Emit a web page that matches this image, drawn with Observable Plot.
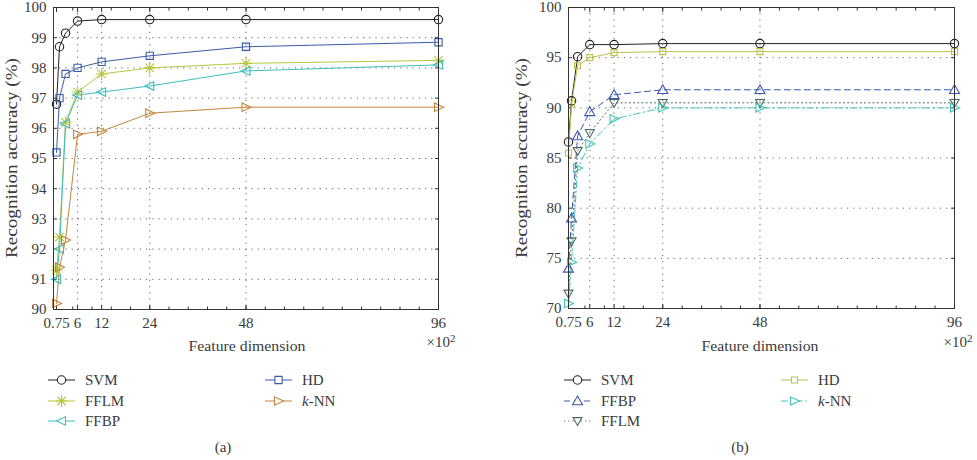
<!DOCTYPE html>
<html>
<head>
<meta charset="utf-8">
<script src="https://cdn.jsdelivr.net/npm/d3@7"></script>
<script src="https://cdn.jsdelivr.net/npm/@observablehq/plot@0.6"></script>
<style>
  body { margin: 0; background: #fff; }
  #root { position: relative; width: 977px; height: 460px; overflow: hidden; font-family: "Liberation Serif", serif; }
  #root > svg { position: absolute; }
</style>
</head>
<body>
<div id="root"></div>
<script>
// Feature dimension (×10²) at which each classifier was evaluated
const dims = [0.75, 1.5, 3, 6, 12, 24, 48, 96];
const dimTicks = [0.75, 6, 12, 24, 48, 96];
const dimGrid = [6, 12, 24, 48];
const dimMinor = d3.range(4.8, 96, 4.8);

// Panel (a): recognition accuracy (%)
const aSVM  = [96.8, 98.7, 99.15, 99.55, 99.6, 99.6, 99.6, 99.6];
const aHD   = [95.2, 97.0, 97.8, 98.0, 98.2, 98.4, 98.7, 98.85];
const aFFLM = [91.3, 92.4, 96.2, 97.2, 97.8, 98.0, 98.15, 98.25];
const aFFBP = [91.0, 92.0, 96.15, 97.1, 97.2, 97.4, 97.9, 98.1];
const aKNN  = [90.2, 91.4, 92.3, 95.8, 95.9, 96.5, 96.7, 96.7];
const aYTicks = [90, 91, 92, 93, 94, 95, 96, 97, 98, 99, 100];

// Panel (b): recognition accuracy (%)
const bSVM  = [86.6, 90.7, 95.1, 96.3, 96.3, 96.4, 96.4, 96.4];
const bHD   = [85.5, 90.4, 94.2, 95.0, 95.5, 95.6, 95.6, 95.6];
const bFFBP = [74.0, 79.0, 87.2, 89.6, 91.3, 91.8, 91.8, 91.8];
const bFFLM = [71.5, 76.7, 85.7, 87.5, 90.5, 90.5, 90.5, 90.5];
const bKNN  = [70.5, 74.6, 84.0, 86.4, 88.9, 90.0, 90.0, 90.0];
const bYTicks = [70, 75, 80, 85, 90, 95, 100];

// Marker shapes (size = π r²)
const rad = (s) => Math.sqrt(s / Math.PI);
const symSquare = { draw(c, s) { const r = rad(s); c.rect(-r, -r, 2 * r, 2 * r); } };
const symStar = { draw(c, s) {
  const r = rad(s), d = r * Math.SQRT1_2;
  c.moveTo(-r, 0); c.lineTo(r, 0); c.moveTo(0, -r); c.lineTo(0, r);
  c.moveTo(-d, -d); c.lineTo(d, d); c.moveTo(-d, d); c.lineTo(d, -d);
} };
const symLeft = { draw(c, s) { const r = rad(s); c.moveTo(-r, 0); c.lineTo(r * 0.8, -r * 0.85); c.lineTo(r * 0.8, r * 0.85); c.closePath(); } };
const symRight = { draw(c, s) { const r = rad(s); c.moveTo(r, 0); c.lineTo(-r * 0.8, -r * 0.85); c.lineTo(-r * 0.8, r * 0.85); c.closePath(); } };
const symUp = { draw(c, s) { const r = rad(s); c.moveTo(0, -r); c.lineTo(r, r * 0.75); c.lineTo(-r, r * 0.75); c.closePath(); } };
const symDown = { draw(c, s) { const r = rad(s); c.moveTo(0, r); c.lineTo(r, -r * 0.75); c.lineTo(-r, -r * 0.75); c.closePath(); } };

const DASH = { solid: null, dashed: "6,4", dotted: "1.2,3", dashdot: "7,3,1.5,3" };
const INK = "#3a3a3a";

const seriesA = [
  { name: "SVM",  values: aSVM,  color: "#222222", symbol: d3.symbolCircle, r: 4.2, dash: "solid" },
  { name: "FFLM", values: aFFLM, color: "#b7c63c", symbol: symStar,  r: 6,   dash: "solid" },
  { name: "FFBP", values: aFFBP, color: "#3dbdbd", symbol: symLeft,  r: 5,   dash: "solid" },
  { name: "HD",   values: aHD,   color: "#3a5ca8", symbol: symSquare, r: 3.6, dash: "solid" },
  { name: "k-NN", values: aKNN,  color: "#c3853c", symbol: symRight, r: 5,   dash: "solid" }
];
const seriesB = [
  { name: "SVM",  values: bSVM,  color: "#222222", symbol: d3.symbolCircle, r: 4.2, dash: "solid" },
  { name: "FFBP", values: bFFBP, color: "#3a58b0", symbol: symUp,    r: 5,   dash: "dashed" },
  { name: "FFLM", values: bFFLM, color: "#4e6b60", symbol: symDown,  r: 4.5, dash: "dotted" },
  { name: "HD",   values: bHD,   color: "#bcc24a", symbol: symSquare, r: 3,  dash: "solid" },
  { name: "k-NN", values: bKNN,  color: "#3fc5b5", symbol: symRight, r: 5,   dash: "dashdot" }
];

function panel(series, yTicks, opts) {
  const rows = s => dims.map((x, i) => ({ x, y: s.values[i] }));
  const grid = { stroke: "#555", strokeOpacity: 0.9, strokeDasharray: "1.2,5" };
  const tickOnly = { tickFormat: () => "", label: null, stroke: "#333" };
  const minor = dimMinor.filter(d => d > opts.xDomain[0]);
  const marks = [
    Plot.gridY(yTicks.slice(1, -1), grid),
    Plot.gridX(dimGrid, grid),
    Plot.axisY(yTicks, { anchor: "left", tickSize: 0, tickPadding: 7, label: null, fontSize: 15, fill: INK }),
    Plot.axisY(yTicks, { anchor: "left", tickSize: -4, ...tickOnly }),
    Plot.axisY(yTicks, { anchor: "right", tickSize: -4, ...tickOnly }),
    Plot.axisX(dimTicks, { anchor: "bottom", tickSize: 0, tickPadding: 8, label: null, fontSize: 15, fill: INK, tickFormat: d => String(d) }),
    Plot.axisX(dimTicks, { anchor: "bottom", tickSize: -4, ...tickOnly }),
    Plot.axisX(dimTicks, { anchor: "top", tickSize: -4, ...tickOnly }),
    Plot.axisX(minor, { anchor: "bottom", tickSize: -2.5, ...tickOnly }),
    Plot.axisX(minor, { anchor: "top", tickSize: -2.5, ...tickOnly })
  ];
  for (const s of series) {
    marks.push(Plot.line(rows(s), { x: "x", y: "y", stroke: s.color, strokeWidth: 1, strokeDasharray: DASH[s.dash] }));
  }
  for (const s of series) {
    marks.push(Plot.dot(rows(s), { x: "x", y: "y", symbol: s.symbol, r: s.r, stroke: s.color, strokeWidth: 1.1, fill: "none" }));
  }
  marks.push(Plot.frame({ stroke: "#333" }));
  const svg = Plot.plot({
    width: opts.width, height: opts.height,
    marginLeft: opts.ml, marginRight: opts.mr, marginTop: opts.mt, marginBottom: opts.mb,
    x: { domain: opts.xDomain },
    y: { domain: [yTicks[0], yTicks[yTicks.length - 1]] },
    style: { fontFamily: "Liberation Serif, serif", fontSize: "15px", background: "transparent", overflow: "visible" },
    marks
  });
  svg.style.left = opts.left + "px";
  svg.style.top = "0px";
  return svg;
}

const root = document.getElementById("root");
root.appendChild(panel(seriesA, aYTicks, { left: 0, width: 490, height: 330, ml: 53, mr: 52, mt: 7, mb: 21, xDomain: [0, 96] }));
root.appendChild(panel(seriesB, bYTicks, { left: 488, width: 489, height: 330, ml: 80, mr: 23, mt: 7, mb: 22, xDomain: [0.75, 96] }));

// Axis titles, legends and panel captions
const ov = d3.select(root).append("svg")
  .attr("width", 977).attr("height", 460)
  .style("left", "0px").style("top", "0px")
  .attr("font-family", "Liberation Serif, serif").attr("font-size", 15).attr("fill", INK);

function titles(p) {
  ov.append("text").attr("transform", `translate(${p.yx},158) rotate(-90)`)
    .attr("text-anchor", "middle").attr("dy", "0.35em").attr("font-size", 16)
    .attr("textLength", 200).attr("lengthAdjust", "spacingAndGlyphs").text("Recognition accuracy (%)");
  ov.append("text").attr("x", p.cx).attr("y", 346).attr("text-anchor", "middle").attr("dy", "0.35em")
    .attr("textLength", 117).attr("lengthAdjust", "spacingAndGlyphs").text("Feature dimension");
  const t = ov.append("text").attr("x", p.tx).attr("y", 342).attr("text-anchor", "middle").attr("dy", "0.35em");
  t.append("tspan").text("×10");
  t.append("tspan").attr("dy", "-0.45em").attr("font-size", 11).text("2");
  ov.append("text").attr("x", p.capx).attr("y", 447).attr("text-anchor", "middle").attr("dy", "0.35em").text(p.caption);
}

function legend(series, cols) {
  series.forEach((s, i) => {
    const x0 = i < 3 ? cols[0] : cols[1];
    const y = [380, 401, 421][i < 3 ? i : i - 3];
    const g = ov.append("g");
    g.append("line").attr("x1", x0).attr("x2", x0 + 27).attr("y1", y).attr("y2", y)
      .attr("stroke", s.color).attr("stroke-width", 1).attr("stroke-dasharray", DASH[s.dash]);
    g.append("path").attr("transform", `translate(${x0 + 13.5},${y})`)
      .attr("d", d3.symbol(s.symbol, Math.PI * s.r * s.r)())
      .attr("fill", "#fff").attr("stroke", s.color).attr("stroke-width", 1.1);
    const t = g.append("text").attr("x", x0 + 37).attr("y", y).attr("dy", "0.35em");
    if (s.name === "k-NN") {
      t.append("tspan").attr("font-style", "italic").text("k");
      t.append("tspan").text("-NN");
    } else t.text(s.name);
  });
}

titles({ yx: 11, cx: 247, tx: 441, capx: 223, caption: "(a)" });
legend(seriesA, [48, 265]);
titles({ yx: 521, cx: 760, tx: 958, capx: 740, caption: "(b)" });
legend(seriesB, [564, 781]);
</script>
</body>
</html>
